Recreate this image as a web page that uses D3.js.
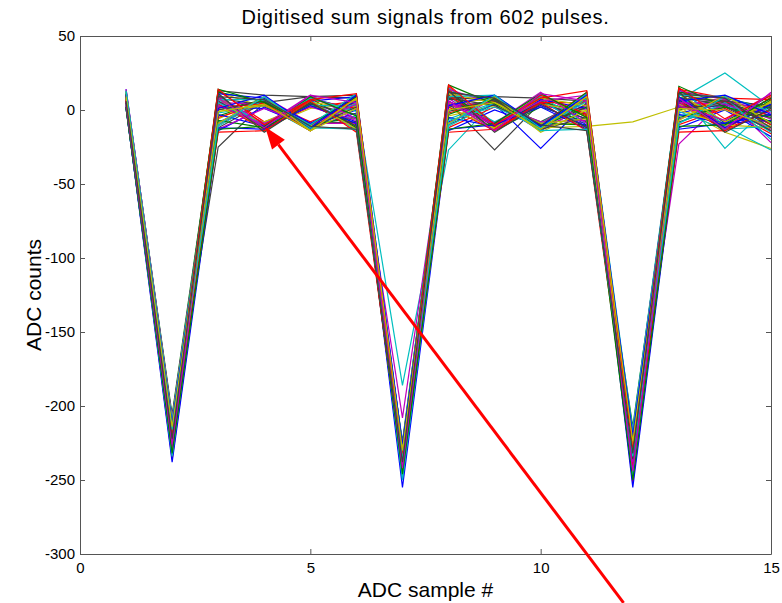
<!DOCTYPE html>
<html>
<head>
<meta charset="UTF-8">
<style>
body { margin: 0; background: white; }
text { font-family: Arial, "Liberation Sans", Helvetica, sans-serif; }
</style>
</head>
<body>
<script src="https://d3js.org/d3.v7.min.js"></script>
<script>

// data: ADC samples 1..15, one row per pulse (a hand-read subset of the 602)
var samples = [1, 2, 3, 4, 5, 6, 7, 8, 9, 10, 11, 12, 13, 14, 15]
var xTicks = [0, 5, 10, 15]
var yTicks = [-300, -250, -200, -150, -100, -50, 0, 50]

// old matlab colour order b g r c m y k
var lineColors = ['#0000ff', '#008000', '#ff0000', '#00bfbf', '#bf00bf', '#bfbf00', '#404040']

var pulses = [
  [8, -218, 6, -10, 4, -8, -232, 10, -11, 5, -6, -230, 8, -10, 2],
  [4, -222, -4, 6, -12, 3, -238, 2, 6, -12, 4, -236, 0, 5, -8],
  [12, -212, 10, -12, 2, 6, -228, 14, -9, 8, -12, -222, 12, -12, 6],
  [2, -226, -8, 4, -10, -4, -242, -6, 5, -10, 6, -240, -4, 3, -12],
  [10, -216, 4, -9, 6, -12, -230, 8, -13, 3, -2, -228, 6, -11, 4],
  [6, -220, 12, 2, -13, 8, -236, 4, 8, -11, -8, -234, 10, 6, -6],
  [1, -230, -12, 5, -9, -8, -246, -10, 4, -8, 8, -248, -8, 2, -14],
  [14, -208, 8, -11, 8, 0, -226, 12, -10, 6, -10, -218, 14, -9, 8],
  [5, -234, 0, 7, -11, 10, -244, 0, 7, -13, 2, -244, 2, 7, -10],
  [9, -214, 13, -8, 3, -10, -234, 16, -12, 9, -4, -226, 4, -13, 0],
  [5, -224, -2, 3, -14, 4, -186, -27, 6, -9, 10, -238, 7, 25, 2],
  [11, -210, 6, -13, 5, -6, -208, 6, -11, 4, 0, -232, -23, 7, -4],
  [3, -228, -6, 8, -10, 2, -240, -4, 3, -12, -11, -8, 2, -15, -26],
  [7, -218, -25, 5, 9, 8, -238, 5, -27, 5, -6, -236, 5, -12, 3],
  [1, -232, 2, 1, -12, -2, -250, -8, 4, -26, 5, -250, -2, 4, -9],
  [13, -206, 11, -14, 4, -12, -224, 10, -14, 2, -8, -214, 9, -8, 10],
  [3, -236, -10, 6, -8, 5, -248, -12, 2, -10, 12, -252, -10, 1, -16],
  [8, -216, 7, -9, 7, -14, -232, 9, -8, 7, -12, -226, 13, -26, 4],
  [6, -222, 5, 4, -13, 7, -238, 3, 5, -14, 3, -240, 3, 8, -22],
  [10, -212, 9, -12, 1, 4, -230, 11, -10, 10, -5, -222, 11, -10, 5],
  [4, -226, 13, 10, 9, 10, -242, 7, 9, 8, 6, -236, 8, 4, 2],
  [2, -238, -14, 2, -11, 0, -255, -14, 0, -11, 9, -255, -12, 0, -18],
  [9, -214, 3, -10, 8, -10, -228, 13, -12, 6, -3, -220, 7, -13, 7],
  [2, -224, -5, 5, -14, 6, -240, -2, 6, -13, 7, -242, 1, 6, -10],
  [12, -210, 10, -12, 3, 3, -226, 15, -9, 9, -9, -216, 15, -11, -27],
  [6, -230, -9, 9, -9, -9, -244, -9, 8, -10, 11, -246, -6, 3, -13],
  [7, -218, 1, -8, 5, 2, -234, 5, -13, 4, -1, -230, 4, -12, 6],
  [11, -212, 8, 3, -12, -12, -236, 8, 3, -12, 4, -232, 10, 5, -4],
  [3, -228, -3, -11, 6, 9, -242, -5, -11, 7, 1, -244, -3, -9, -7],
  [8, -220, 12, 6, -10, -5, -232, 12, 7, -9, -10, -228, 12, 8, 1],
  [5, -216, 4, -13, 7, 1, -246, 2, -14, 5, 5, -238, 6, -14, 9],
  [1, -232, -11, 7, -13, 5, -250, -11, 5, -14, 8, -248, -9, 5, -15],
  [14, -208, 9, -9, 2, -7, -230, 14, 4, -8, -7, -218, 13, 7, -2],
  [4, -222, -1, 3, -11, 7, -238, 1, -12, 8, 3, -234, 0, -10, -12],
  [9, -214, 6, -12, 4, -3, -228, 9, 6, -13, -5, -224, 8, 6, 3],
  [6, -220, 11, 8, -9, 6, -236, 6, -9, 3, -11, -232, 9, -12, 4],
  [1, -226, -7, -12, 5, -11, -244, -3, 8, -11, 2, -240, -5, 2, -8],
  [10, -216, 2, 4, -14, 9, -232, 10, -11, 10, -3, -226, 14, 8, 7],
  [4, -234, 5, -10, 8, -1, -248, -7, 2, -12, 6, -246, -1, -13, -11],
  [7, -218, -13, 1, -10, 4, -240, 4, -10, 6, 10, -236, 5, 4, -6],
  [12, -210, 8, -14, 6, -13, -226, 11, 5, -9, -6, -220, 11, -8, 5],
  [2, -228, 0, 6, -12, 2, -242, -1, 7, -13, 9, -242, 2, 3, -14],
  [9, -220, -12, -13, 3, -9, -236, -13, -10, 2, -13, -232, -13, -9, -3],
  [11, -214, 14, 5, -10, 9, -230, 17, 4, -11, 12, -224, 16, 2, -5],
  [6, -224, -15, -14, 6, -15, -242, -15, -13, 5, -14, -240, -15, -14, 0],
  [13, -210, 7, 7, -10, 11, -228, 9, 10, -12, 11, -218, 10, 9, -1],
  [3, -230, 3, -10, 10, -6, -240, 6, -9, 12, -9, -238, 3, -7, 11],
  [8, -218, -9, 9, -14, 1, -232, -9, 9, -15, 0, -228, -7, 10, -9],
  [5, -224, 11, -15, 5, -11, -238, 13, -15, 4, -12, -236, 12, -15, 1],
  [10, -212, 1, 10, -12, 10, -226, 3, 10, -11, 10, -220, 6, 10, -3],
  [2, -232, -13, -11, 9, -4, -246, -13, -9, 11, -5, -250, -11, -10, 8],
  [7, -220, 14, -10, 7, 11, -234, 17, -10, 8, 13, -230, 15, -6, 10],
  [12, -216, -10, 9, -12, -13, -236, -10, 10, -14, -13, -234, -9, 9, -20],
  [4, -226, 8, -12, 10, 5, -242, 6, -14, 11, 6, -244, 8, -13, 12],
  [9, -214, -1, 4, -14, 8, -230, 0, 5, -13, 9, -224, 1, 0, -11],
  [6, -222, 9, 7, -11, -13, -238, 12, 8, -10, -14, -232, 11, 8, -12]
]

// annotation arrow, in data units [sample, counts]
var arrowFrom = [11.8, -333]
    arrowTo = [4.02, -11.5]

// canvas
var svgWidth = 782
    svgHeight = 603
    margin = {"top": 36, "bottom": 49, "left": 80, "right": 11}
    axisColor = '#555'

var svg = d3.select("body").append("svg")
          .attr("width", svgWidth)
          .attr("height", svgHeight)

var xScale = d3.scaleLinear()
            .domain([0, 15])
            .range([margin.left, svgWidth - margin.right])

var yScale = d3.scaleLinear()
            .domain([-300, 50])
            .range([svgHeight - margin.bottom, margin.top])

// pulse traces
var line = d3.line()
            .x((d, i) => xScale(samples[i]))
            .y(d => yScale(d))

svg.append('g')
    .selectAll('path')
    .data(pulses)
    .enter().append('path')
      .attr('d', line)
      .attr('fill', 'none')
      .attr('stroke', (d, i) => lineColors[i % lineColors.length])
      .attr('stroke-width', 1.2)

// axes, matlab style: ticks inside, full box, plain hyphen minus
var fmt = d => String(d)

var xAxis = d3.axisBottom(xScale).tickValues(xTicks).tickSize(-5).tickPadding(8).tickFormat(fmt)
    xAxisTop = d3.axisTop(xScale).tickValues(xTicks).tickSize(-5).tickFormat('')
    yAxis = d3.axisLeft(yScale).tickValues(yTicks).tickSize(-5).tickPadding(5).tickFormat(fmt)
    yAxisRight = d3.axisRight(yScale).tickValues(yTicks).tickSize(-5).tickFormat('')

function styleAxis(g) {
    g.selectAll('.domain').attr('stroke', axisColor)
    g.selectAll('.tick line').attr('stroke', axisColor)
    g.selectAll('.tick text')
        .attr('fill', '#000')
        .style('font-size', '15px')
        .style('font-family', 'Arial, "Liberation Sans", sans-serif')
}

svg.append('g')
    .attr('transform', 'translate(0,' + (svgHeight - margin.bottom) + ')')
    .call(xAxis.tickSizeOuter(0))
    .call(styleAxis)

svg.append('g')
    .attr('transform', 'translate(0,' + margin.top + ')')
    .call(xAxisTop.tickSizeOuter(0))
    .call(styleAxis)

svg.append('g')
    .attr('transform', 'translate(' + margin.left + ',0)')
    .call(yAxis.tickSizeOuter(0))
    .call(styleAxis)

svg.append('g')
    .attr('transform', 'translate(' + (svgWidth - margin.right) + ',0)')
    .call(yAxisRight.tickSizeOuter(0))
    .call(styleAxis)

// title and labels
svg.append('text')
    .attr('x', (xScale(0) + xScale(15)) / 2)
    .attr('y', 24)
    .attr('text-anchor', 'middle')
    .style('font-size', '20px')
    .style('letter-spacing', '0.7px')
    .text('Digitised sum signals from 602 pulses.')

svg.append('text')
    .attr('x', (xScale(0) + xScale(15)) / 2)
    .attr('y', 597)
    .attr('text-anchor', 'middle')
    .style('font-size', '21px')
    .text('ADC sample #')

svg.append('text')
    .attr('transform', 'translate(41,' + ((yScale(50) + yScale(-300)) / 2) + ') rotate(-90)')
    .attr('text-anchor', 'middle')
    .style('font-size', '21px')
    .text('ADC counts')

// red arrow annotation
var ax0 = xScale(arrowFrom[0]), ay0 = yScale(arrowFrom[1])
    ax1 = xScale(arrowTo[0]), ay1 = yScale(arrowTo[1])
    ang = Math.atan2(ay1 - ay0, ax1 - ax0)
    headLen = 22
    headHalf = 8

var bx = ax1 - headLen * Math.cos(ang), by = ay1 - headLen * Math.sin(ang)

svg.append('line')
    .attr('x1', ax0).attr('y1', ay0)
    .attr('x2', bx).attr('y2', by)
    .attr('stroke', '#ff0000')
    .attr('stroke-width', 3)

svg.append('path')
    .attr('d', 'M' + ax1 + ',' + ay1
             + 'L' + (bx + headHalf * Math.sin(ang)) + ',' + (by - headHalf * Math.cos(ang))
             + 'L' + (bx - headHalf * Math.sin(ang)) + ',' + (by + headHalf * Math.cos(ang)) + 'Z')
    .attr('fill', '#ff0000')

</script>
</body>
</html>
